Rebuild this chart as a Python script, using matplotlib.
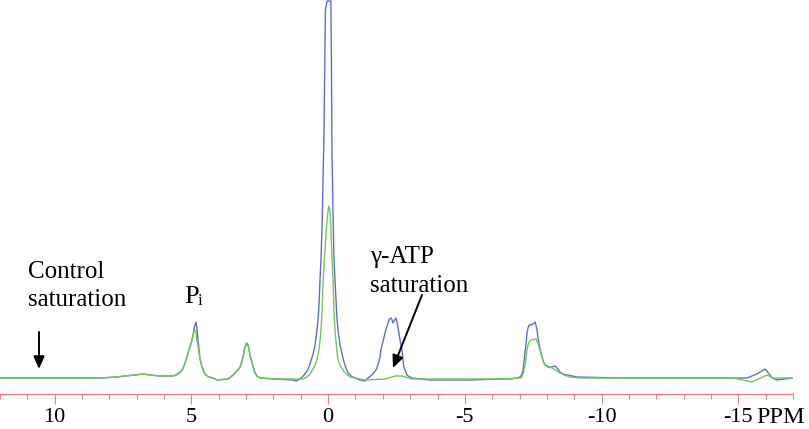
import matplotlib
matplotlib.use("Agg")
import matplotlib.pyplot as plt
from matplotlib.ticker import FixedLocator, MultipleLocator

plt.rcParams['font.family'] = ['Liberation Serif', 'DejaVu Serif']

# chemical shift (ppm) and intensity (arbitrary units)
# blue trace: control saturation
control_ppm = [12.00, 9.81, 8.34, 7.72, 7.43, 7.06, 6.77, 6.51, 6.15, 5.86, 5.67, 5.56,
               5.45, 5.34, 5.27, 5.20, 5.14, 5.09, 5.03, 4.98, 4.94, 4.91, 4.87, 4.83,
               4.80, 4.76, 4.72, 4.69, 4.65, 4.61, 4.54, 4.47, 4.36, 4.21, 4.06, 3.66,
               3.52, 3.41, 3.30, 3.22, 3.17, 3.11, 3.08, 3.04, 3.00, 2.97, 2.93, 2.89,
               2.86, 2.82, 2.78, 2.73, 2.67, 2.60, 2.49, 1.94, 1.28, 1.18, 1.10, 0.99,
               0.88, 0.77, 0.70, 0.63, 0.55, 0.48, 0.43, 0.37, 0.33, 0.30, 0.26, 0.22,
               0.19, 0.15, 0.11, 0.10, 0.04, -0.10, -0.12, -0.14, -0.18, -0.21, -0.25,
               -0.29, -0.32, -0.36, -0.43, -0.51, -0.58, -0.65, -0.73, -0.84, -0.98,
               -1.17, -1.35, -1.46, -1.60, -1.75, -1.82, -1.90, -1.93, -2.01, -2.08,
               -2.13, -2.19, -2.24, -2.30, -2.34, -2.37, -2.43, -2.48, -2.52, -2.55,
               -2.59, -2.63, -2.70, -2.74, -2.77, -2.88, -2.99, -3.07, -3.73, -5.19,
               -6.29, -6.65, -6.91, -7.02, -7.09, -7.13, -7.16, -7.20, -7.24, -7.27,
               -7.31, -7.35, -7.42, -7.49, -7.53, -7.56, -7.60, -7.64, -7.67, -7.71,
               -7.75, -7.82, -7.88, -7.93, -8.04, -8.19, -8.30, -8.37, -8.48, -8.59,
               -8.74, -8.92, -9.10, -10.67, -13.60, -15.32, -15.68, -15.98, -16.16,
               -16.23, -16.42, -16.96]
control_int = [0, 0, 0, 1, 2, 3, 4, 3, 2, 2, 2, 3,
               5, 8, 12, 18, 23, 28, 33, 38, 43, 48, 53, 56,
               50, 38, 28, 20, 15, 11, 6, 3, 1, 0, -2, -1,
               2, 5, 8, 11, 15, 21, 26, 31, 34, 35, 33, 28,
               23, 19, 15, 10, 5, 2, 0, -1, -2, -3, -2, 0,
               3, 7, 11, 17, 24, 33, 43, 58, 75, 96, 120, 153,
               193, 248, 338, 368, 377, 377, 318, 228, 163, 123, 98,
               78, 61, 48, 34, 24, 16, 10, 5, 2, 0,
               -2, -3, 0, 3, 8, 13, 21, 28, 37, 45,
               50, 55, 59, 60, 58, 55, 58, 60, 56, 51,
               45, 38, 28, 18, 11, 3, 1, 0, -2, -2,
               -1, -1, 0, 1, 4, 8, 16, 26, 35, 45,
               50, 53, 53, 54, 55, 56, 53, 48, 41, 35,
               29, 21, 16, 13, 11, 11, 12, 10, 6, 4,
               3, 2, 1, 0, 0, 0, 4, 9, 3,
               0, -2, 0]

# green trace: gamma-ATP saturation
gatp_ppm = [12.00, 9.81, 8.34, 7.72, 7.43, 7.06, 6.77, 6.51, 6.15, 5.86, 5.67, 5.56,
            5.45, 5.34, 5.27, 5.20, 5.14, 5.09, 5.03, 4.98, 4.94, 4.91, 4.87, 4.83,
            4.80, 4.76, 4.72, 4.69, 4.65, 4.61, 4.54, 4.47, 4.36, 4.21, 4.06, 3.66,
            3.52, 3.41, 3.30, 3.22, 3.17, 3.11, 3.08, 3.04, 3.00, 2.97, 2.93, 2.89,
            2.86, 2.82, 2.78, 2.73, 2.67, 2.60, 2.49, 1.94, 0.92, 0.77, 0.66, 0.55,
            0.48, 0.41, 0.33, 0.30, 0.26, 0.22, 0.19, 0.15, 0.11, 0.08, 0.04, 0.00,
            -0.03, -0.07, -0.10, -0.14, -0.18, -0.21, -0.25, -0.31, -0.36, -0.47,
            -0.62, -0.80, -0.98, -1.35, -2.08, -2.45, -2.70, -3.07, -5.19, -6.29,
            -7.05, -7.13, -7.16, -7.20, -7.24, -7.27, -7.31, -7.35, -7.42, -7.49,
            -7.56, -7.60, -7.64, -7.67, -7.75, -7.82, -7.88, -7.93, -8.11, -8.26,
            -8.41, -8.63, -8.84, -9.21, -10.67, -14.81, -15.50, -16.05, -16.27,
            -16.96]
gatp_int = [0, 0, 0, 1, 2, 3, 4, 3, 2, 2, 2, 3,
            5, 8, 12, 18, 23, 28, 33, 38, 43, 46, 48, 45,
            38, 32, 26, 20, 15, 11, 6, 3, 1, 0, -2, -1,
            2, 5, 8, 11, 15, 21, 26, 31, 34, 35, 33, 28,
            23, 19, 15, 10, 5, 2, 0, -1, -1, 1, 4, 9,
            13, 18, 29, 37, 48, 68, 92, 113, 130, 144, 158, 168,
            172, 166, 150, 120, 98, 68, 48, 30, 18, 11,
            5, 1, 0, -2, -1, 2, 2, -1, -1, -1,
            0, 4, 8, 14, 20, 28, 33, 36, 38, 38,
            39, 39, 37, 35, 28, 21, 16, 13, 11, 9,
            6, 3, 1, 0, 0, 0, -4, 3, 0,
            0]

major_ticks = [10, 5, 0, -5, -10, -15]
tick_labels = ['10', '5', '0', '-5', '-10', '-15']

W, H = 809, 429
fig = plt.figure(figsize=(W / 100, H / 100), dpi=100)
ax = fig.add_axes([0, 35 / H, 793 / W, 394 / H])

blue = '#5f6fc6'
green = '#70c85a'
axis_red = '#ef7e7e'

ax.plot(control_ppm, control_int, color=blue, lw=1.0)
ax.plot(gatp_ppm, gatp_int, color=green, lw=1.0)

ax.set_xlim(12, -17)
ax.set_ylim(-16, 378)

for s in ['left', 'right', 'top']:
    ax.spines[s].set_visible(False)
ax.spines['bottom'].set_color(axis_red)
ax.spines['bottom'].set_linewidth(1.0)
ax.yaxis.set_visible(False)

ax.xaxis.set_major_locator(FixedLocator(major_ticks))
ax.set_xticklabels(tick_labels)
ax.xaxis.set_minor_locator(MultipleLocator(1))
ax.tick_params(axis='x', which='major', direction='out', length=7, width=0.8,
               color=axis_red, labelsize=16, pad=3, labelcolor='black')
ax.tick_params(axis='x', which='minor', direction='out', length=3.6, width=0.8,
               color=axis_red)

def ftext(x, y, s, size=18, **kw):
    fig.text(x / W, 1 - y / H, s, fontsize=size, va='baseline', ha='left', **kw)

ftext(28, 278, 'Control')
ftext(28, 306, 'saturation')
ftext(370, 263, 'γ-ATP')
ftext(370, 292, 'saturation')
ftext(184, 303, 'P', size=19)
ftext(198, 305, 'i', size=12)
fig.text(781 / W, 1 - 423 / H, 'PPM', fontsize=17.5, ha='center', va='baseline')

arrow = dict(arrowstyle='-|>,head_length=0.75,head_width=0.33', color='black',
             lw=1.4, shrinkA=0, shrinkB=0, mutation_scale=10)
ax.annotate('', xy=(39, H - 369), xytext=(39, H - 332), xycoords='figure pixels',
            textcoords='figure pixels', arrowprops=arrow)
ax.annotate('', xy=(393, H - 368), xytext=(422, H - 295), xycoords='figure pixels',
            textcoords='figure pixels', arrowprops=arrow)

fig.savefig('out.png', dpi=100)
